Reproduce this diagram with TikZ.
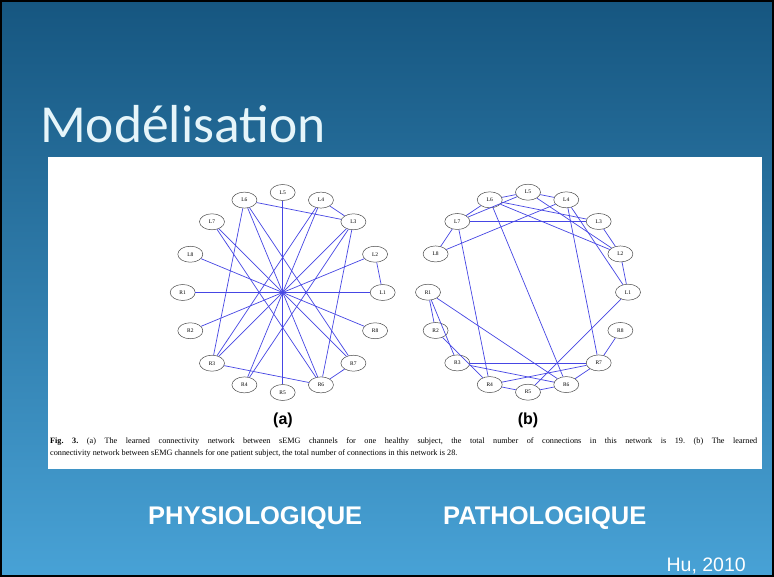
\documentclass[tikz,border=0pt]{standalone}
\usepackage{fontspec}
\setmainfont{Liberation Serif}
\newfontfamily\titlefont{Carlito}
\newfontfamily\helv{Liberation Sans}
\usetikzlibrary{shapes.geometric}
\definecolor{slidetop}{RGB}{22,86,128}
\definecolor{slidebottom}{RGB}{72,162,214}
\definecolor{titlecol}{RGB}{230,245,250}
\definecolor{edgeblue}{RGB}{70,70,228}
\begin{document}
\frenchspacing
\begin{tikzpicture}[x=1pt,y=-1pt,
  chan/.style={ellipse, draw=black!70, line width=0.5pt, fill=white,
    minimum width=25pt, minimum height=16pt, inner sep=0pt,
    font=\fontsize{5.5}{5.5}\selectfont},
  link/.style={draw=edgeblue, line width=0.7pt},
  sublabel/.style={font=\helv\bfseries\fontsize{16}{16}\selectfont, inner sep=0pt},
  biglabel/.style={font=\helv\bfseries\fontsize{25.5}{25.5}\selectfont, text=white, inner sep=0pt, anchor=base west},
  captext/.style={font=\fontsize{8.2}{9.5}\selectfont, inner sep=0pt, anchor=base west}]
\useasboundingbox (0,0) rectangle (774,577);
% slide background and frame
\shade[top color=slidetop, bottom color=slidebottom] (0,0) rectangle (774,577);
\draw[black, line width=2pt] (1,1) rectangle (773,576);
% title
\node[anchor=base west, inner sep=0pt, text=titlecol, font=\titlefont\fontsize{53.5}{53.5}\selectfont] (title) at (40,143) {Modélisation};
% white figure panel
\fill[white] (48,157) rectangle (762,469);
% channel nodes on two circles
\foreach \n/\a in {L1/0, L2/22.5, L3/45, L4/67.5, L5/90, L6/112.5, L7/135, L8/157.5,
                   R1/180, R2/202.5, R3/225, R4/247.5, R5/270, R6/292.5, R7/315, R8/337.5} {
  \node[chan] (a-\n) at ({282.7+100*cos(\a)}, {292.5-100*sin(\a)}) {\n};
  \node[chan] (b-\n) at ({528+100*cos(\a)}, {292.2-100*sin(\a)}) {\n};
}
% network (a): 19 connections
\foreach \u/\v in {L5/R5, L1/R1, L8/R8, L2/R2, L3/R3, L4/R4, L6/R6, L7/R7,
                   L6/L3, L4/L3, L2/L1, R3/R6, R7/R6, L6/R3, L3/R6, L4/R3,
                   L3/R4, L6/R7, L7/R6}
  \draw[link] (a-\u) -- (a-\v);
% network (b): 28 connections
\foreach \u/\v in {L5/L6, L5/L4, L5/L7, L5/L2, L6/L7, L6/L3, L6/L2, L6/R6,
                   L7/L8, L7/L3, L7/R4, L8/L4, L4/R7, L4/L1, L3/L2, L2/L1,
                   R1/R2, R1/R3, R1/R6, R2/R4, R3/R7, R3/R6, R4/R5, R4/R7,
                   R5/R6, R5/L1, R6/R7, R7/R8}
  \draw[link] (b-\u) -- (b-\v);
% sub-figure labels
\node[sublabel] (la) at (283,420) {(a)};
\node[sublabel] (lb) at (528,420) {(b)};
% caption
\node[captext] (cap1) at (50,443) {\makebox[707pt][s]{\textbf{Fig.~3.}~(a) The learned connectivity network between sEMG channels for one healthy subject, the total number of connections in this network is 19. (b) The learned}};
\node[captext] (cap2) at (50,455) {connectivity network between sEMG channels for one patient subject, the total number of connections in this network is 28.};
% bottom labels
\node[biglabel] (phys) at (148,524) {PHYSIOLOGIQUE};
\node[biglabel] (path) at (443,524) {PATHOLOGIQUE};
\node[anchor=base east, inner sep=0pt, text=white, font=\helv\fontsize{19.5}{19.5}\selectfont] (ref) at (746,571) {Hu, 2010};
\end{tikzpicture}
\end{document}
